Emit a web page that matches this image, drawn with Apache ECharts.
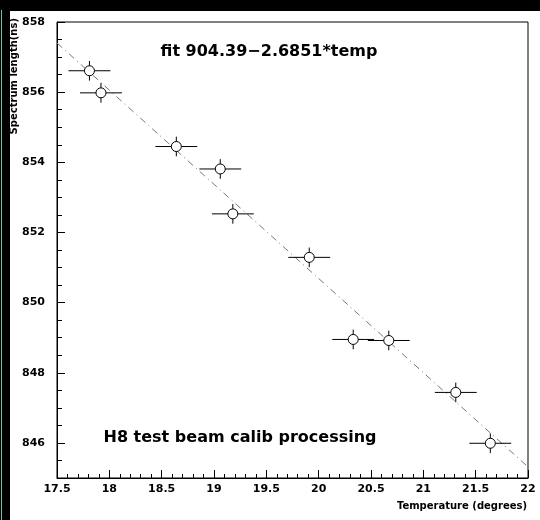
<!DOCTYPE html>
<html>
<head>
<meta charset="utf-8">
<script src="https://cdn.jsdelivr.net/npm/echarts@6/dist/echarts.min.js"></script>
<style>html,body{margin:0;padding:0;background:#fff;overflow:hidden}#c{width:540px;height:520px}</style>
</head>
<body>
<div id="c"></div>
<script>
// Data
var temps   = [17.81, 17.92, 18.64, 19.06, 19.18, 19.91, 20.33, 20.67, 21.31, 21.64];
var lengths = [856.61, 855.98, 854.45, 853.81, 852.53, 851.29, 848.95, 848.92, 847.44, 845.99];
var tempErr = [0.2, 0.2, 0.2, 0.2, 0.2, 0.2, 0.2, 0.2, 0.2, 0.2];
var lenErr  = [0.28, 0.28, 0.28, 0.28, 0.28, 0.28, 0.28, 0.28, 0.28, 0.28];
var fitParams = [904.39, -2.6851];
var fitRange = [17.5, 22];
var yLabelValues = [846, 848, 850, 852, 854, 856, 858];

var FONT = '"DejaVu Sans", Verdana, sans-serif';

var points = temps.map(function (t, i) { return [t, lengths[i], tempErr[i], lenErr[i]]; });
var fitLine = fitRange.map(function (x) { return [x, fitParams[0] + fitParams[1] * x]; });

var chart = echarts.init(document.getElementById('c'), null, {renderer: 'canvas'});
chart.setOption({
  animation: false,
  backgroundColor: '#ffffff',
  grid: {left: 57, top: 22, right: 12, bottom: 42, show: true, borderColor: '#000', borderWidth: 1, backgroundColor: 'transparent'},
  graphic: [
    {type: 'rect', shape: {x: 0, y: 0, width: 540, height: 11}, style: {fill: '#000'}, silent: true},
    {type: 'rect', shape: {x: 0, y: 0, width: 10, height: 520}, style: {fill: '#000'}, silent: true},
    {type: 'rect', shape: {x: 1, y: 10, width: 1, height: 510}, style: {fill: '#6cc4a6'}, silent: true},
    {type: 'text', x: 14, y: 18, rotation: Math.PI / 2,
      style: {text: 'Spectrum length(ns)', font: 'bold 10px ' + FONT, fill: '#000', align: 'right', verticalAlign: 'middle'}},
    {type: 'text', x: 527, y: 506,
      style: {text: 'Temperature (degrees)', font: 'bold 10px ' + FONT, fill: '#000', align: 'right', verticalAlign: 'middle'}},
    {type: 'text', x: 269, y: 52, z: 10,
      style: {text: 'fit 904.39\u22122.6851*temp', font: 'bold 16px ' + FONT, fill: '#000', align: 'center', verticalAlign: 'middle'}},
    {type: 'text', x: 240, y: 438, z: 10,
      style: {text: 'H8 test beam calib processing', font: 'bold 16px ' + FONT, fill: '#000', align: 'center', verticalAlign: 'middle'}}
  ],
  xAxis: {
    type: 'value', min: 17.5, max: 22, interval: 0.5,
    axisLine: {show: true, lineStyle: {color: '#000', width: 1}},
    axisTick: {show: true, inside: true, length: 8, lineStyle: {color: '#000'}},
    minorTick: {show: true, splitNumber: 5, length: 4, lineStyle: {color: '#000'}},
    splitLine: {show: false}, minorSplitLine: {show: false},
    axisLabel: {color: '#000', fontFamily: FONT, fontWeight: 'bold', fontSize: 11, margin: 6,
      formatter: function (v) { return String(Math.round(v * 10) / 10); }}
  },
  yAxis: [{
    type: 'value', min: 845, max: 858, interval: 0.5,
    axisLine: {show: true, lineStyle: {color: '#000', width: 1}},
    axisTick: {show: true, inside: true, length: 5, lineStyle: {color: '#000'}},
    splitLine: {show: false},
    axisLabel: {show: false}
  }, {
    type: 'value', min: 845, max: 858, position: 'left', offset: 0,
    axisLine: {show: false},
    axisTick: {show: true, inside: true, length: 8, customValues: yLabelValues, lineStyle: {color: '#000'}},
    splitLine: {show: false},
    axisLabel: {show: true, customValues: yLabelValues, color: '#000', fontFamily: FONT, fontWeight: 'bold', fontSize: 11, margin: 12}
  }],
  series: [{
    type: 'line', data: fitLine, symbol: 'none', z: 1,
    lineStyle: {color: '#777', width: 1, type: [7, 4, 1, 4]}
  }, {
    type: 'custom', z: 2,
    data: points,
    renderItem: function (params, api) {
      var x = api.value(0), y = api.value(1), ex = api.value(2), ey = api.value(3);
      var l = api.coord([x - ex, y]), r = api.coord([x + ex, y]);
      var t = api.coord([x, y + ey]), b = api.coord([x, y - ey]);
      var st = {stroke: '#000', lineWidth: 1};
      return {type: 'group', children: [
        {type: 'line', shape: {x1: l[0], y1: l[1], x2: r[0], y2: r[1]}, style: st},
        {type: 'line', shape: {x1: t[0], y1: t[1], x2: b[0], y2: b[1]}, style: st}
      ]};
    }
  }, {
    type: 'scatter', data: points.map(function (p) { return [p[0], p[1]]; }), z: 3,
    symbol: 'circle', symbolSize: 10,
    itemStyle: {color: '#fff', borderColor: '#000', borderWidth: 1, opacity: 1}
  }]
});
</script>
</body>
</html>
